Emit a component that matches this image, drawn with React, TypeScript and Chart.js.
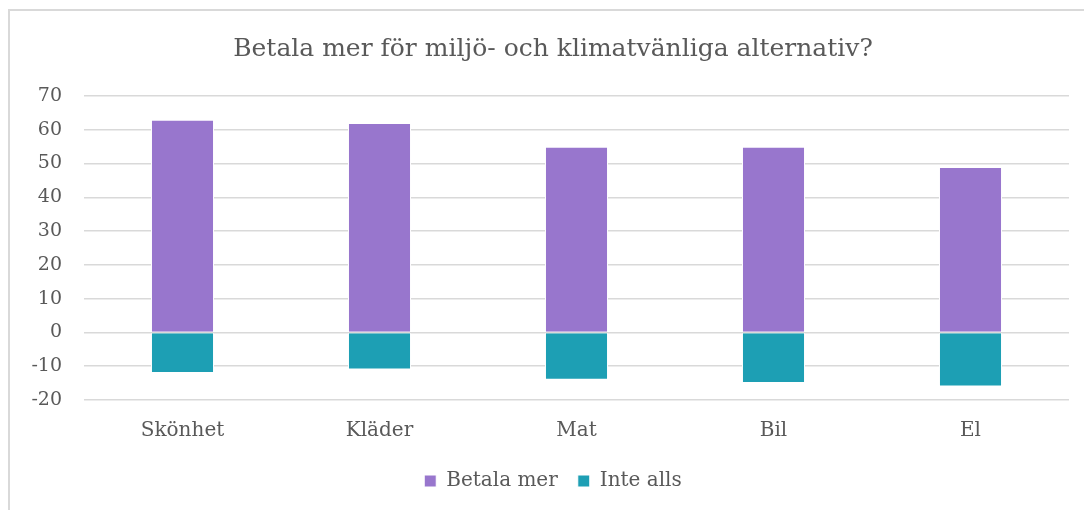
import React, { useEffect, useRef } from "react";
import { Chart, registerables } from "chart.js";

Chart.register(...registerables);

const title = "Betala mer för miljö- och klimatvänliga alternativ?";
const categories = ["Skönhet", "Kläder", "Mat", "Bil", "El"];
const betalaMer = [63, 62, 55, 55, 49];
const inteAlls = [-12, -11, -14, -15, -16];
const seriesNames = ["Betala mer", "Inte alls"];
const yMin = -20;
const yMax = 70;
const yStep = 10;

const FONT = "'DejaVu Serif', serif";
const TEXT = "#595959";

export default function App() {
  const ref = useRef<HTMLCanvasElement | null>(null);

  useEffect(() => {
    if (!ref.current) return;
    const chart = new Chart(ref.current, {
      type: "bar",
      data: {
        labels: categories,
        datasets: [
          {
            label: seriesNames[0],
            data: betalaMer,
            backgroundColor: "#9876CD",
            borderColor: "#ffffff",
            borderWidth: 1,
            categoryPercentage: 1,
            barPercentage: 0.32,
          },
          {
            label: seriesNames[1],
            data: inteAlls,
            backgroundColor: "#1D9FB4",
            borderColor: "#ffffff",
            borderWidth: 1,
            categoryPercentage: 1,
            barPercentage: 0.32,
          },
        ],
      },
      options: {
        responsive: false,
        animation: false,
        devicePixelRatio: 1,
        layout: { padding: { left: 14, right: 2, top: 0, bottom: 9 } },
        plugins: {
          title: {
            display: true,
            text: title,
            color: TEXT,
            font: { family: FONT, size: 25, weight: "normal" },
            padding: { top: 23, bottom: 32 },
          },
          legend: {
            position: "bottom",
            labels: {
              color: TEXT,
              font: { family: FONT, size: 20 },
              boxWidth: 12,
              boxHeight: 12,
              padding: 20,
            },
          },
          tooltip: { enabled: false },
        },
        scales: {
          x: {
            stacked: true,
            grid: { display: false },
            border: { display: false },
            ticks: {
              color: TEXT,
              font: { family: FONT, size: 20 },
              padding: 11,
            },
            afterFit: (s: any) => {
              s.height = 51;
            },
          },
          y: {
            stacked: true,
            min: yMin,
            max: yMax,
            grid: { color: "#d9d9d9", lineWidth: 1.5, drawTicks: false },
            border: { display: false },
            ticks: {
              stepSize: yStep,
              color: TEXT,
              font: { family: FONT, size: 19 },
              padding: 22,
            },
            afterFit: (s: any) => {
              s.width = 60;
            },
          },
          spacer: {
            type: "linear",
            position: "right",
            min: yMin,
            max: yMax,
            grid: { display: false },
            border: { display: false },
            ticks: { display: false },
            afterFit: (s: any) => {
              s.width = 13;
            },
          },
        },
      },
    });
    return () => chart.destroy();
  }, []);

  return (
    <div
      style={{
        position: "absolute",
        left: 8,
        top: 9,
        width: 1076,
        height: 501,
        borderLeft: "2px solid #d9d9d9",
        borderTop: "2px solid #d9d9d9",
        boxSizing: "border-box",
        background: "#fff",
      }}
    >
      <canvas ref={ref} width={1074} height={499} style={{ display: "block" }} />
    </div>
  );
}
